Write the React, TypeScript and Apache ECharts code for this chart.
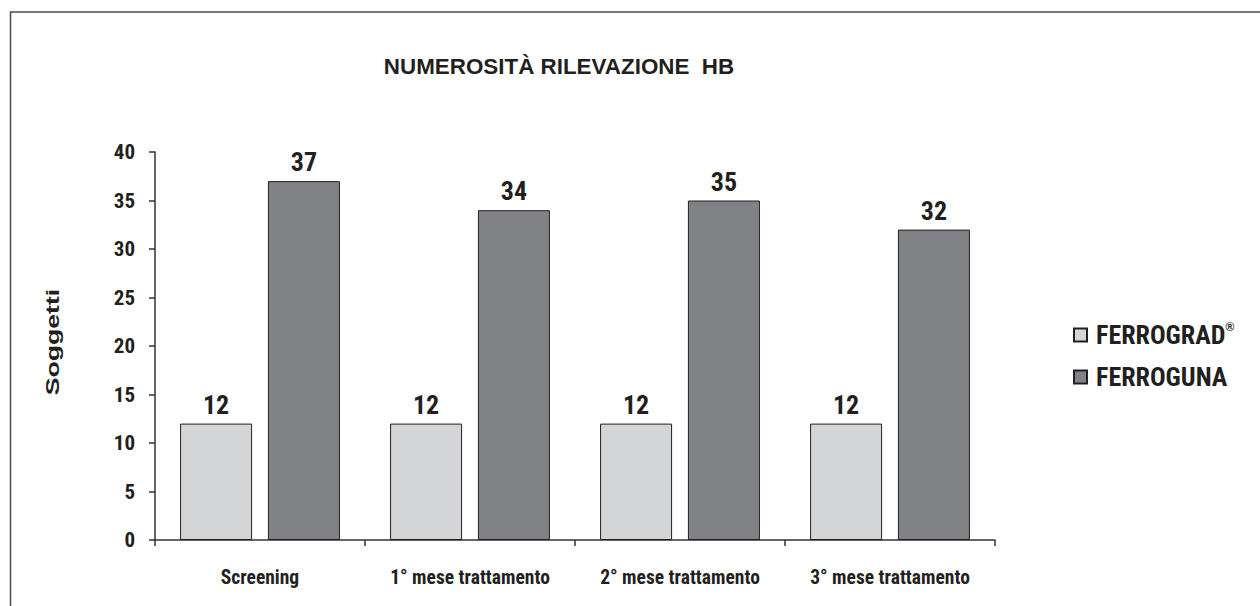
import React, { useEffect, useRef } from "react";
import * as echarts from "echarts";

const categories = ["Screening", "1° mese trattamento", "2° mese trattamento", "3° mese trattamento"];
const seriesNames = ["FERROGRAD®", "FERROGUNA"];
const ferrograd = [12, 12, 12, 12];
const ferroguna = [37, 34, 35, 32];
const yMin = 0;
const yMax = 40;
const yStep = 5;

const NARROW = "'Liberation Sans Narrow', 'Arial Narrow', 'Roboto Condensed', sans-serif";
const SANS = "'Liberation Sans', Arial, Helvetica, sans-serif";

export default function App() {
  const ref = useRef<HTMLDivElement>(null);
  useEffect(() => {
    if (!ref.current) return;
    const chart = echarts.init(ref.current, null, { renderer: "svg" });
    const barStyle = (color: string) => ({ color, borderColor: "#231f20", borderWidth: 1 });
    const labelStyle = {
      show: true,
      position: "top" as const,
      distance: 6,
      fontFamily: NARROW,
      fontWeight: "bold" as const,
      fontSize: 26,
      color: "#231f20",
    };
    chart.setOption({
      animation: false,
      backgroundColor: "#ffffff",
      title: {
        text: "NUMEROSITÀ RILEVAZIONE  HB",
        left: 554,
        top: 50,
        textAlign: "center",
        textStyle: { fontFamily: SANS, fontWeight: "bold", fontSize: 22.4, color: "#231f20" },
      },
      graphic: [
        {
          type: "rect",
          shape: { x: 10.5, y: 12, width: 1300, height: 700 },
          style: { fill: "none", stroke: "#4a4a4a", lineWidth: 1.5 },
          silent: true,
        },
        {
          type: "text",
          x: 52,
          y: 342,
          rotation: Math.PI / 2,
          scaleX: 1.4,
          style: {
            text: "Soggetti",
            fontFamily: SANS,
            fontWeight: "bold",
            fontSize: 19,
            fill: "#231f20",
            textAlign: "center",
            textVerticalAlign: "middle",
          },
        },
      ],
      legend: {
        orient: "vertical",
        left: 1068,
        top: 316,
        itemWidth: 13,
        itemHeight: 13,
        itemGap: 16,
        icon: "rect",
        data: seriesNames,
        formatter: (n: string) => (n.endsWith("®") ? `{a|${n.slice(0, -1)}}{s|®}` : `{a|${n}}`),
        textStyle: {
          padding: [0, 0, 0, 4],
          rich: {
            a: { fontFamily: NARROW, fontWeight: "bold", fontSize: 26, color: "#231f20", lineHeight: 28 },
            s: { fontFamily: SANS, fontWeight: "bold", fontSize: 12, color: "#231f20", verticalAlign: "top", lineHeight: 28 },
          },
        },
      },
      grid: { left: 155, right: 265, top: 152, bottom: 66 },
      xAxis: {
        type: "category",
        data: categories,
        axisLine: { lineStyle: { color: "#333", width: 1.5 } },
        axisTick: { show: true, length: 6, lineStyle: { color: "#333", width: 1.5 } },
        axisLabel: {
          margin: 27,
          fontFamily: NARROW,
          fontWeight: "bold",
          fontSize: 19.5,
          color: "#231f20",
        },
      },
      yAxis: {
        type: "value",
        min: yMin,
        max: yMax,
        interval: yStep,
        splitLine: { show: false },
        axisLine: { show: true, lineStyle: { color: "#333", width: 1.5 } },
        axisTick: { show: true, length: 6, lineStyle: { color: "#333", width: 1.5 } },
        axisLabel: {
          margin: 20,
          fontFamily: NARROW,
          fontWeight: "bold",
          fontSize: 21,
          color: "#231f20",
        },
      },
      series: [
        {
          name: seriesNames[0],
          type: "bar",
          data: ferrograd,
          barWidth: 72,
          barGap: "22%",
          itemStyle: barStyle("#d4d5d7"),
          label: labelStyle,
        },
        {
          name: seriesNames[1],
          type: "bar",
          data: ferroguna,
          barWidth: 72,
          barGap: "22%",
          itemStyle: barStyle("#818286"),
          label: labelStyle,
        },
      ],
    });
    return () => chart.dispose();
  }, []);
  return (
    <div
      ref={ref}
      style={{ position: "absolute", left: 0, top: 0, width: 1260, height: 606, background: "#fff" }}
    />
  );
}
